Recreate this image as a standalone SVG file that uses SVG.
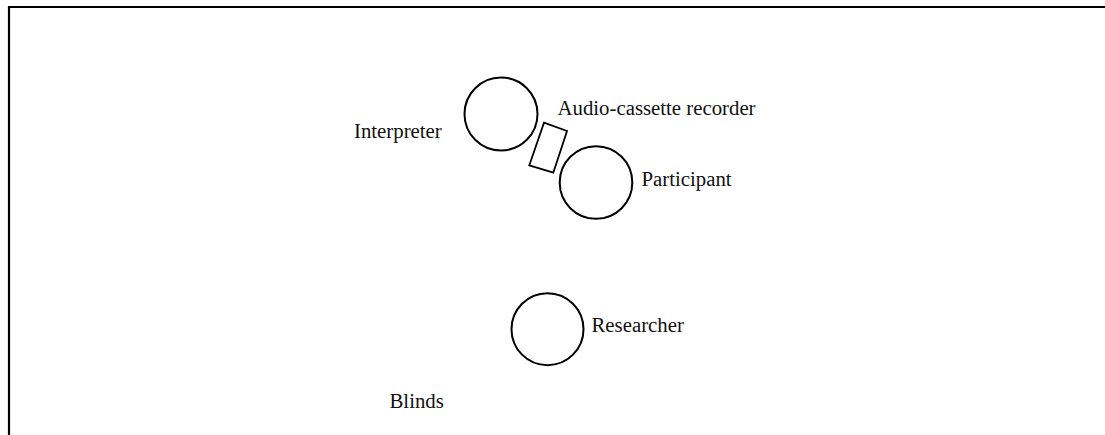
<svg xmlns="http://www.w3.org/2000/svg" width="1105" height="435" viewBox="0 0 1105 435">
  <style>
    .seat { fill: none; stroke: #000; stroke-width: 2; }
    .device { fill: none; stroke: #000; stroke-width: 1.8; }
    .wall { fill: none; stroke: #000; stroke-width: 2.2; }
    .label { font-family: "Liberation Serif", "Times New Roman", serif; font-size: 20.8px; fill: #111; }
  </style>
  <rect width="1105" height="435" fill="#fff"/>
  <!-- room walls: top and left edges -->
  <g id="walls">
    <path class="wall" d="M 9 435 L 9 7 L 1105 7"/>
  </g>
  <g id="interpreter">
    <circle class="seat" cx="501" cy="114" r="36.5"/>
    <text class="label" x="354" y="137.5">Interpreter</text>
  </g>
  <g id="recorder">
    <polygon class="device" points="544,122.7 567,131 553.3,172.7 529.3,165.3"/>
    <text class="label" x="557.5" y="115">Audio-cassette recorder</text>
  </g>
  <g id="participant">
    <circle class="seat" cx="596" cy="182.5" r="36.3"/>
    <text class="label" x="641.5" y="186">Participant</text>
  </g>
  <g id="researcher">
    <circle class="seat" cx="547.5" cy="329.2" r="36"/>
    <text class="label" x="591.5" y="332">Researcher</text>
  </g>
  <g id="blinds">
    <text class="label" x="389.5" y="408">Blinds</text>
  </g>
  <g id="connectors"/>
</svg>
